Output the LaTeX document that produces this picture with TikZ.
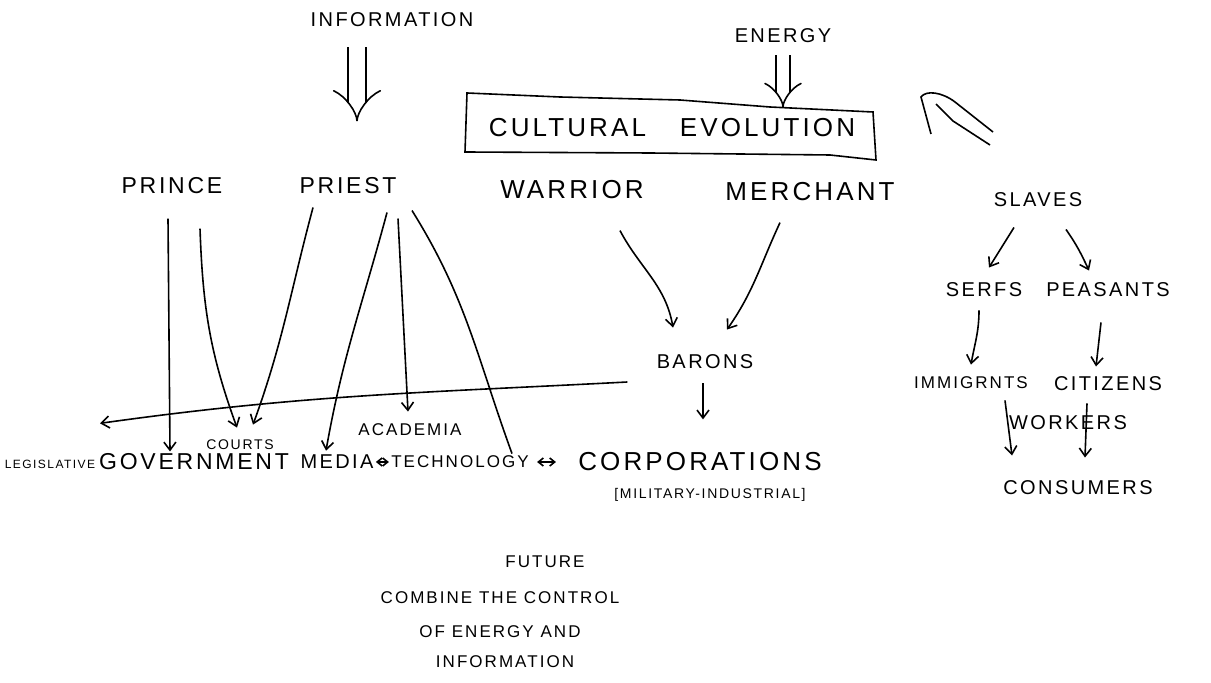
\documentclass[tikz,border=0pt]{standalone}
\usepackage{fontspec}
\setmainfont{Liberation Sans}[LetterSpace=12]
\usetikzlibrary{arrows.meta,calc}
\begin{document}
\begin{tikzpicture}[x=0.5pt,y=0.5pt,
 pen/.style={line width=0.8pt},
 tip/.style={pen,-{Straight Barb[length=4pt,width=6pt]}},
 both/.style={pen,{Straight Barb[length=2.5pt,width=4pt]}-{Straight Barb[length=2.5pt,width=4pt]}},
 dbl/.style={line width=0.8pt,double,double distance=#1,-{Implies}},
 large/.style={font=\fontsize{13}{13}\selectfont,inner sep=1pt},
 big/.style={font=\fontsize{11.5}{11.5}\selectfont,inner sep=1pt},
 mid/.style={font=\fontsize{10}{10}\selectfont,inner sep=1pt},
 small/.style={font=\fontsize{8.5}{8.5}\selectfont,inner sep=1pt},
 tiny/.style={font=\fontsize{7}{7}\selectfont,inner sep=1pt}]
\useasboundingbox (0,0) rectangle (1211,-683);

% top
\node[mid] (info) at (392,-20) {INFORMATION};
\node[mid] (energy) at (783,-36) {ENERGY};
\node[large] (cult) at (672,-128) {CULTURAL\hspace{1.3em}EVOLUTION};
\draw[pen] (467,-93) -- (560,-97) -- (680,-100) -- (770,-107) -- (873,-112) -- (876,-160)
  -- (830,-155) -- (650,-153) -- (465,-152) -- cycle;
\draw[pen] (993,-132) -- (955,-102) .. controls (942,-92) and (926,-90) .. (921,-97) -- (931,-134);
\draw[pen] (990,-145) -- (953,-121) -- (936,-104);

\node[big] (prince) at (172,-186) {PRINCE};
\node[big] (priest) at (348,-186) {PRIEST};
\node[large] (warrior) at (572,-190) {WARRIOR};
\node[large] (merchant) at (810,-192) {MERCHANT};
\node[mid] (slaves) at (1038,-200) {SLAVES};

\draw[dbl=8pt] ($(info.south)+(-35,-18)$) -- ($(priest.north)+(9,54)$);
\draw[dbl=6pt] ($(energy.south)+(0,-10)$) -- ($(energy |- cult.north)+(0,9)$);

% middle
\node[mid] (barons) at (705,-362) {BARONS};
\node[small] (academia) at (410,-430) {ACADEMIA};
\node[tiny] (courts) at (240,-445) {COURTS};
\node[font=\fontsize{6}{6}\selectfont,inner sep=1pt] (legis) at (50,-464) {LEGISLATIVE};

% bottom row
\node[big] (government) at (194,-462) {GOVERNMENT};
\node[mid] (media) at (337,-462) {MEDIA};
\node[small] (tech) at (460,-462) {TECHNOLOGY};
\node[large] (corp) at (700,-462) {CORPORATIONS};
\node[tiny] (milind) at (710,-495) {[MILITARY-INDUSTRIAL]};

\draw[tip] ($(prince.south)+(-4,-22)$) -- ($(government.north)+(-24,0)$);
\draw[tip] ($(prince.south)+(28,-32)$) to[out=-88,in=110] ($(courts.north)+(-3,10)$);
\draw[tip] ($(priest.south)+(-35,-11)$) to[out=-105,in=70] ($(courts.north)+(13,13)$);
\draw[tip] ($(priest.south)+(39,-16)$) to[out=-105,in=80] ($(media.north)+(-11,2)$);
\draw[tip] ($(priest.south)+(50,-22)$) -- ($(academia.north)+(-2,10)$);
\draw[pen] ($(priest.south)+(64,-14)$) to[out=-58,in=110] ($(tech.north)+(52,0)$);
\draw[tip] ($(warrior.south)+(48,-29)$) to[out=-62,in=100] ($(barons.north)+(-32,25)$);
\draw[tip] ($(merchant.south)+(-30,-19)$) to[out=-115,in=55] ($(barons.north)+(22,23)$);
\draw[tip] ($(barons.south)+(-2,-12)$) -- ($(corp.north)+(3,31)$);
\draw[tip] ($(barons.west)+(-27,-20)$) to[out=183,in=8] ($(legis.north)+(50,34)$);
\draw[both] (media.east) -- (tech.west);
\draw[both,shorten >=10pt,shorten <=3pt] (tech.east) -- (corp.west);

% right column
\node[mid] (serfs) at (984,-290) {SERFS};
\node[mid] (peasants) at (1108,-290) {PEASANTS};
\node[small] (immig) at (971,-383) {IMMIGRNTS};
\node[mid] (citizens) at (1108,-384) {CITIZENS};
\node[mid] (workers) at (1068,-423) {WORKERS};
\node[mid] (consumers) at (1078,-488) {CONSUMERS};

\draw[tip] ($(slaves.south)+(-24,-18)$) -- ($(serfs.north)+(5,13)$);
\draw[tip] ($(slaves.south)+(28,-20)$) to[out=-55,in=115] ($(peasants.north)+(-19,10)$);
\draw[tip] ($(serfs.south)+(-5,-11)$) to[out=-90,in=80] ($(immig.north)+(0,10)$);
\draw[tip] ($(peasants.south)+(-7,-23)$) -- ($(citizens.north)+(-12,8)$);
\draw[tip] ($(immig.south)+(34,-9)$) -- ($(consumers.north)+(-66,23)$);
\draw[tip] ($(citizens.south)+(-21,-10)$) -- ($(consumers.north)+(7,21)$);

% future
\node[small] (future) at (545,-562) {FUTURE};
\node[small] (combine) at (500,-598) {COMBINE THE CONTROL};
\node[small] (ofenergy) at (500,-632) {OF ENERGY AND};
\node[small] (info2) at (505,-662) {INFORMATION};
\end{tikzpicture}
\end{document}
